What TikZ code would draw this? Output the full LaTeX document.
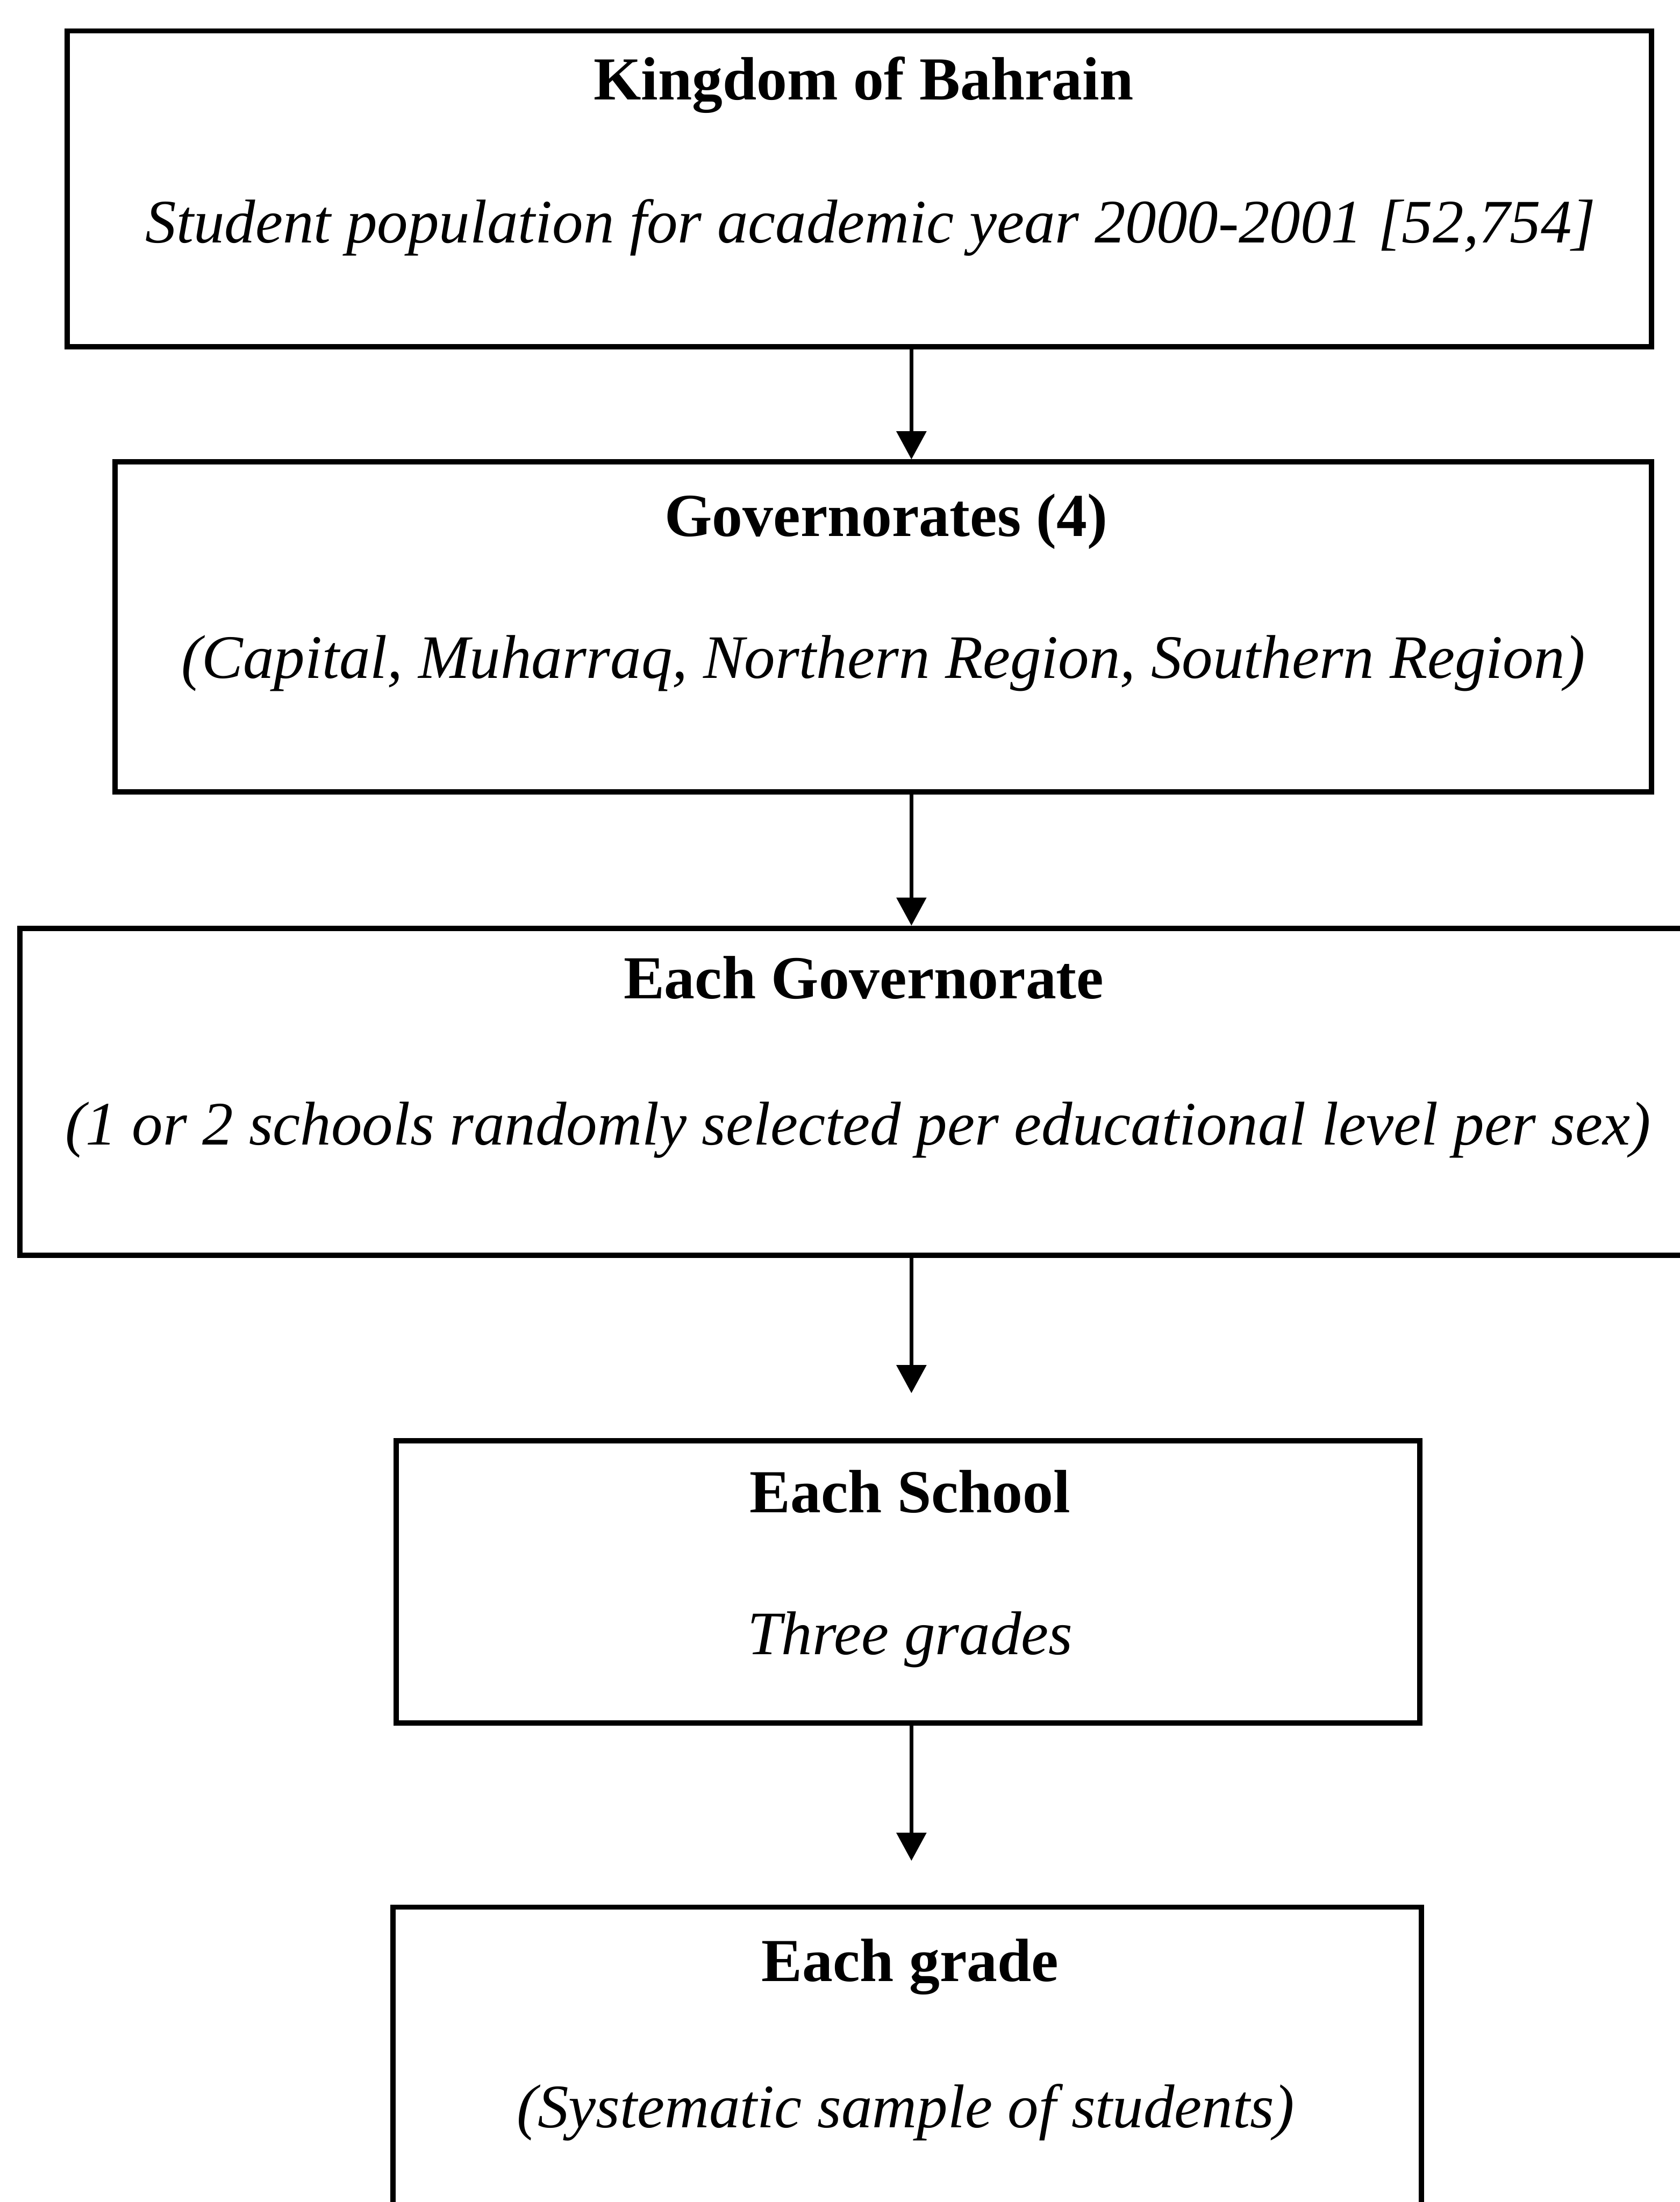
\documentclass[tikz,border=0pt]{standalone}
\usepackage{fontspec}
\setmainfont{Liberation Serif}
\usetikzlibrary{arrows.meta}
\begin{document}
\begin{tikzpicture}[x=1pt,y=-1pt,
  box/.style={draw,line width=3.8pt,inner sep=0pt,minimum width=#1},
  ttl/.style={anchor=base,font=\fontsize{43.5}{50}\selectfont\bfseries,inner sep=0pt},
  sub/.style={anchor=base,font=\fontsize{44}{50}\selectfont\itshape,inner sep=0pt},
  arr/.style={line width=2.5pt,-{Triangle[width=21pt,length=20pt]}}]
\useasboundingbox (0,0) rectangle (1196,1568);
\fill[white] (0,0) rectangle (1196,1568);
% boxes
\node[box=1128pt,minimum height=225pt] (b1) at (612,134.5) {};
\node[box=1094pt,minimum height=235pt] (b2) at (629,446.5) {};
\node[box=1196pt,minimum height=233pt] (b3) at (612,777.5) {};
\node[box=729pt,minimum height=201pt] (b4) at (646.5,1126.5) {};
\node[box=732pt,minimum height=242pt] (b5) at (646,1479) {};
% texts
\node[ttl] (t1) at (615,71) {Kingdom of Bahrain};
\node[sub] (s1) at (620,173) {Student population for academic year 2000-2001 [52,754]};
\node[ttl] (t2) at (631,382) {Governorates (4)};
\node[sub] (s2) at (629,483) {(Capital, Muharraq, Northern Region, Southern Region)};
\node[ttl] (t3) at (615,711) {Each Governorate};
\node[sub] (s3) at (611,815) {(1 or 2 schools randomly selected per educational level per sex)};
\node[ttl] (t4) at (648,1077) {Each School};
\node[sub] (s4) at (648,1178) {Three grades};
\node[ttl] (t5) at (648,1411) {Each grade};
\node[sub] (s5) at (645,1515) {(Systematic sample of students)};
% arrows
\coordinate (ax) at (649,0);
\coordinate (e3) at (649,992);
\coordinate (e4) at (649,1325);
\draw[arr] (b1.south -| ax) -- (b2.north -| ax);
\draw[arr] (b2.south -| ax) -- (b3.north -| ax);
\draw[arr] (b3.south -| ax) -- (e3);
\draw[arr] (b4.south -| ax) -- (e4);
\end{tikzpicture}
\end{document}
